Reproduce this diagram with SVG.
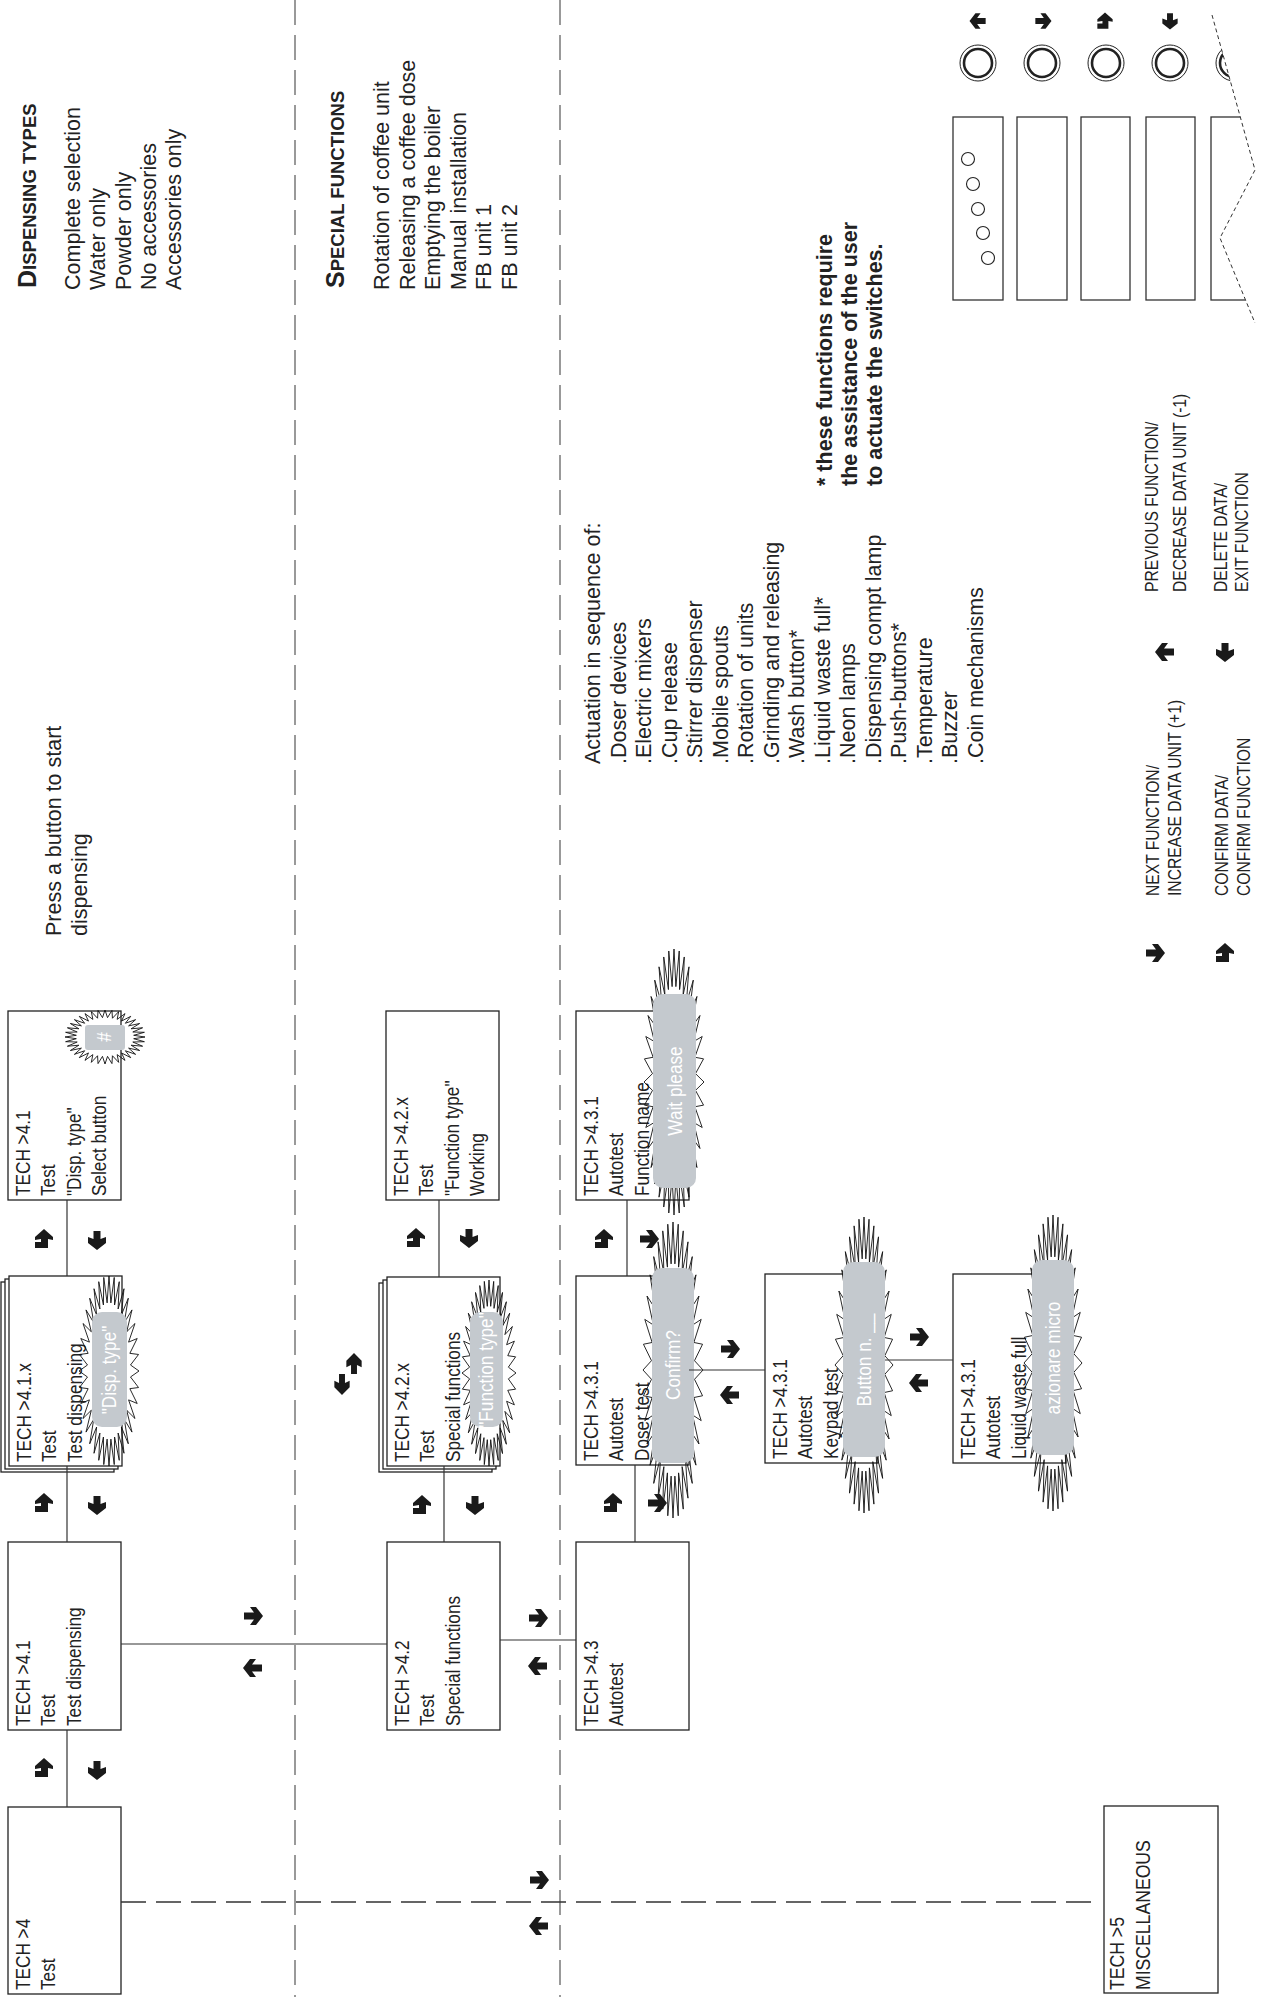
<svg xmlns="http://www.w3.org/2000/svg" width="1269" height="1997" viewBox="0 0 1269 1997">
<style>
.bx{fill:#fff;stroke:#222;stroke-width:1.3}
.t{font-family:"Liberation Sans",Arial,sans-serif;font-size:21px;fill:#222}
.tw{font-family:"Liberation Sans",Arial,sans-serif;font-size:21px;fill:#fff}
.big{font-family:"Liberation Sans",Arial,sans-serif;font-size:21.5px;fill:#222}
.bold{font-weight:bold}
.leg{font-family:"Liberation Sans",Arial,sans-serif;font-size:18px;fill:#222}
.cn{stroke:#333;stroke-width:1.2;fill:none}
.dv{stroke:#808080;stroke-width:1.6;stroke-dasharray:25 10;fill:none}
.dh{stroke:#333;stroke-width:1.3;stroke-dasharray:25 10;fill:none}
.gr{fill:#c4c9ce}
.ar{fill:#1a1a1a}
.pn{fill:none;stroke:#333;stroke-width:1.3}
</style>
<defs>
<polygon id="star" fill="none" stroke="#111" stroke-width="0.9" vector-effect="non-scaling-stroke" points="1,0 .717,.063 .985,.174 .695,.186 .94,.342 .653,.304 .866,.5 .59,.413 .766,.643 .509,.509 .643,.766 .413,.59 .5,.866 .304,.653 .342,.94 .186,.695 .174,.985 .063,.717 0,1 -.063,.717 -.174,.985 -.186,.695 -.342,.94 -.304,.653 -.5,.866 -.413,.59 -.643,.766 -.509,.509 -.766,.643 -.59,.413 -.866,.5 -.653,.304 -.94,.342 -.695,.186 -.985,.174 -.717,.063 -1,0 -.717,-.063 -.985,-.174 -.695,-.186 -.94,-.342 -.653,-.304 -.866,-.5 -.59,-.413 -.766,-.643 -.509,-.509 -.643,-.766 -.413,-.59 -.5,-.866 -.304,-.653 -.342,-.94 -.186,-.695 -.174,-.985 -.063,-.717 0,-1 .063,-.717 .174,-.985 .186,-.695 .342,-.94 .304,-.653 .5,-.866 .413,-.59 .643,-.766 .509,-.509 .766,-.643 .59,-.413 .866,-.5 .653,-.304 .94,-.342 .695,-.186 .985,-.174 .717,-.063"/>
<path id="aR" class="ar" d="M-9,-3.5 H1 L-3,-9 H3 L10,0 L3,9 H-3 L1,3.5 H-9 Z"/>
<path id="aL" class="ar" d="M9,-3.5 H-1 L3,-9 H-3 L-10,0 L-3,9 H3 L-1,3.5 H9 Z"/>
<path id="aD" class="ar" d="M-3.5,-9 H3.5 V-1 L9,-3 V3 L0,10 L-9,3 V-3 L-3.5,-1 Z"/>
<path id="aU" class="ar" d="M-3.5,9 H3.5 V1 L9,3 V-3 L0,-10 L-9,-3 V3 L-3.5,1 Z"/>
<path id="aC" class="ar" d="M0,-10 L9,-2 V1 L4,0 V9 H-9 V3 H-3 V0 L-9,1 V-2 Z"/>
<clipPath id="tear"><polygon points="900,0 1208,0 1212,15 1255,170 1220,238 1255,323 1262,340 900,340"/></clipPath>
</defs>

<g id="separators">
<line class="dv" x1="295" y1="0" x2="295" y2="1997"/>
<line class="dv" x1="560" y1="0" x2="560" y2="1997"/>
</g>

<g id="notes">
<text class="big bold" transform="translate(36,288) rotate(-90)"><tspan font-size="25">D</tspan><tspan font-size="18.5">ISPENSING TYPES</tspan></text>
<text class="big" transform="translate(80,290) rotate(-90)"><tspan x="0" y="0">Complete selection</tspan><tspan x="0" y="25.3">Water only</tspan><tspan x="0" y="50.6">Powder only</tspan><tspan x="0" y="75.9">No accessories</tspan><tspan x="0" y="101.2">Accessories only</tspan></text>
<text class="big bold" transform="translate(344,288) rotate(-90)"><tspan font-size="25">S</tspan><tspan font-size="18.5">PECIAL FUNCTIONS</tspan></text>
<text class="big" transform="translate(389,290) rotate(-90)"><tspan x="0" y="0">Rotation of coffee unit</tspan><tspan x="0" y="25.5">Releasing a coffee dose</tspan><tspan x="0" y="51">Emptying the boiler</tspan><tspan x="0" y="76.5">Manual installation</tspan><tspan x="0" y="102">FB unit 1</tspan><tspan x="0" y="127.5">FB unit 2</tspan></text>
<text class="big" transform="translate(61,936) rotate(-90)"><tspan x="0" y="0">Press a button to start</tspan><tspan x="0" y="25.5">dispensing</tspan></text>
<text class="big" transform="translate(600,764) rotate(-90)"><tspan x="0" y="0">Actuation in sequence of:</tspan><tspan x="0" y="25.5">.Doser devices</tspan><tspan x="0" y="51">.Electric mixers</tspan><tspan x="0" y="76.5">.Cup release</tspan><tspan x="0" y="102">.Stirrer dispenser</tspan><tspan x="0" y="127.5">.Mobile spouts</tspan><tspan x="0" y="153">.Rotation of units</tspan><tspan x="0" y="178.5">.Grinding and releasing</tspan><tspan x="0" y="204">.Wash button*</tspan><tspan x="0" y="229.5">.Liquid waste full*</tspan><tspan x="0" y="255">.Neon lamps</tspan><tspan x="0" y="280.5">.Dispensing compt lamp</tspan><tspan x="0" y="306">.Push-buttons*</tspan><tspan x="0" y="331.5">.Temperature</tspan><tspan x="0" y="357">.Buzzer</tspan><tspan x="0" y="382.5">.Coin mechanisms</tspan></text>
<text class="big bold" transform="translate(832,486) rotate(-90)"><tspan x="0" y="0">* these functions require</tspan><tspan x="0" y="25">the assistance of the user</tspan><tspan x="0" y="50">to actuate the switches.</tspan></text>
</g>

<g id="legend">
<text class="leg" transform="translate(1159,896) rotate(-90) scale(0.87 1)"><tspan x="0" y="0">NEXT FUNCTION/</tspan><tspan x="0" y="22">INCREASE DATA UNIT (+1)</tspan></text>
<text class="leg" transform="translate(1228,896) rotate(-90) scale(0.87 1)"><tspan x="0" y="0">CONFIRM DATA/</tspan><tspan x="0" y="22">CONFIRM FUNCTION</tspan></text>
<text class="leg" transform="translate(1158,592) rotate(-90) scale(0.87 1)"><tspan x="0" y="0">PREVIOUS FUNCTION/</tspan><tspan x="0" y="28">DECREASE DATA UNIT (-1)</tspan></text>
<text class="leg" transform="translate(1227,592) rotate(-90) scale(0.87 1)"><tspan x="0" y="0">DELETE DATA/</tspan><tspan x="0" y="21">EXIT FUNCTION</tspan></text>
<use href="#aR" transform="translate(1155 953)"/>
<use href="#aC" transform="translate(1225 953)"/>
<use href="#aL" transform="translate(1165 652)"/>
<use href="#aD" transform="translate(1225 652)"/>
</g>

<g id="panel">
<use href="#aL" transform="translate(978 21) scale(0.85)"/>
<use href="#aR" transform="translate(1043 21) scale(0.85)"/>
<use href="#aC" transform="translate(1105 21) scale(0.85)"/>
<use href="#aD" transform="translate(1170 21) scale(0.85)"/>
<g clip-path="url(#tear)">
<circle cx="978" cy="63" r="18" fill="none" stroke="#222" stroke-width="1"/><circle cx="978" cy="63" r="14" fill="none" stroke="#222" stroke-width="2.6"/>
<circle cx="1042" cy="63" r="18" fill="none" stroke="#222" stroke-width="1"/><circle cx="1042" cy="63" r="14" fill="none" stroke="#222" stroke-width="2.6"/>
<circle cx="1106" cy="63" r="18" fill="none" stroke="#222" stroke-width="1"/><circle cx="1106" cy="63" r="14" fill="none" stroke="#222" stroke-width="2.6"/>
<circle cx="1170" cy="63" r="18" fill="none" stroke="#222" stroke-width="1"/><circle cx="1170" cy="63" r="14" fill="none" stroke="#222" stroke-width="2.6"/>
<circle cx="1234" cy="63" r="18" fill="none" stroke="#222" stroke-width="1"/><circle cx="1234" cy="63" r="14" fill="none" stroke="#222" stroke-width="2.6"/>
<rect class="pn" x="953" y="117" width="50" height="183"/>
<rect class="pn" x="1017" y="117" width="50" height="183"/>
<rect class="pn" x="1081" y="117" width="49" height="183"/>
<rect class="pn" x="1146" y="117" width="49" height="183"/>
<rect class="pn" x="1211" y="117" width="50" height="183"/>
</g>
<circle cx="968" cy="159" r="6.5" fill="none" stroke="#222" stroke-width="1.1"/>
<circle cx="973" cy="184" r="6.5" fill="none" stroke="#222" stroke-width="1.1"/>
<circle cx="978" cy="209" r="6.5" fill="none" stroke="#222" stroke-width="1.1"/>
<circle cx="983" cy="233" r="6.5" fill="none" stroke="#222" stroke-width="1.1"/>
<circle cx="988" cy="258" r="6.5" fill="none" stroke="#222" stroke-width="1.1"/>
<polyline points="1212,15 1255,170 1220,238 1255,323" fill="none" stroke="#333" stroke-width="1" stroke-dasharray="4 3"/>
</g>

<g id="tech4">
<rect class="bx" x="8" y="1807" width="113" height="187"/>
<text class="t" transform="translate(30,1990) rotate(-90) scale(0.82 1)"><tspan x="0" y="0">TECH &gt;4</tspan><tspan x="0" y="25.5">Test</tspan></text>
</g>
<g id="tech41">
<rect class="bx" x="8" y="1542" width="113" height="188"/>
<text class="t" transform="translate(30,1726) rotate(-90) scale(0.82 1)"><tspan x="0" y="0">TECH &gt;4.1</tspan><tspan x="0" y="25.5">Test</tspan><tspan x="0" y="51">Test dispensing</tspan></text>
</g>
<g id="tech41x">
<rect class="bx" x="1" y="1282" width="113" height="190"/>
<rect class="bx" x="5" y="1279" width="113" height="190"/>
<rect class="bx" x="9" y="1276" width="113" height="190"/>
<text class="t" transform="translate(31,1462) rotate(-90) scale(0.82 1)"><tspan x="0" y="0">TECH &gt;4.1.x</tspan><tspan x="0" y="25.5">Test</tspan><tspan x="0" y="51">Test dispensing</tspan></text>
<use href="#star" transform="translate(109 1371) scale(30 95)"/>
<rect class="gr" x="92" y="1312" width="35" height="115" rx="10"/>
<text class="tw" text-anchor="middle" transform="translate(116,1370) rotate(-90) scale(0.82 1)">"Disp. type"</text>
</g>
<g id="tech41sel">
<rect class="bx" x="8" y="1011" width="113" height="189"/>
<text class="t" transform="translate(30,1196) rotate(-90) scale(0.82 1)"><tspan x="0" y="0">TECH &gt;4.1</tspan><tspan x="0" y="25.5">Test</tspan><tspan x="0" y="51">"Disp. type"</tspan><tspan x="0" y="76.5">Select button</tspan></text>
<use href="#star" transform="translate(105 1037) scale(40 27)"/>
<rect class="gr" x="85" y="1025" width="40" height="25" rx="3"/>
<text class="tw" text-anchor="middle" transform="translate(111,1037) rotate(-90) scale(0.82 1)">#</text>
</g>

<g id="tech42">
<rect class="bx" x="387" y="1542" width="113" height="188"/>
<text class="t" transform="translate(409,1726) rotate(-90) scale(0.82 1)"><tspan x="0" y="0">TECH &gt;4.2</tspan><tspan x="0" y="25.5">Test</tspan><tspan x="0" y="51">Special functions</tspan></text>
</g>
<g id="tech42x">
<rect class="bx" x="379" y="1283" width="113" height="189"/>
<rect class="bx" x="383" y="1280" width="113" height="189"/>
<rect class="bx" x="387" y="1277" width="113" height="189"/>
<text class="t" transform="translate(409,1462) rotate(-90) scale(0.82 1)"><tspan x="0" y="0">TECH &gt;4.2.x</tspan><tspan x="0" y="25.5">Test</tspan><tspan x="0" y="51">Special functions</tspan></text>
<use href="#star" transform="translate(489 1373) scale(27 93)"/>
<rect class="gr" x="470" y="1312" width="33" height="115" rx="10"/>
<text class="tw" text-anchor="middle" transform="translate(493,1370) rotate(-90) scale(0.82 1)">"Function type"</text>
</g>
<g id="tech42xw">
<rect class="bx" x="386" y="1011" width="113" height="189"/>
<text class="t" transform="translate(408,1196) rotate(-90) scale(0.82 1)"><tspan x="0" y="0">TECH &gt;4.2.x</tspan><tspan x="0" y="25.5">Test</tspan><tspan x="0" y="51">"Function type"</tspan><tspan x="0" y="76.5">Working</tspan></text>
</g>

<g id="tech43">
<rect class="bx" x="576" y="1542" width="113" height="188"/>
<text class="t" transform="translate(598,1726) rotate(-90) scale(0.82 1)"><tspan x="0" y="0">TECH &gt;4.3</tspan><tspan x="0" y="25.5">Autotest</tspan></text>
</g>
<g id="tech431doser">
<rect class="bx" x="576" y="1276" width="113" height="189"/>
<text class="t" transform="translate(598,1461) rotate(-90) scale(0.82 1)"><tspan x="0" y="0">TECH &gt;4.3.1</tspan><tspan x="0" y="25.5">Autotest</tspan><tspan x="0" y="51">Doser test</tspan></text>
<use href="#star" transform="translate(673 1370) scale(30 148)"/>
<rect class="gr" x="652" y="1268" width="42" height="195" rx="10"/>
<text class="tw" text-anchor="middle" transform="translate(680,1365) rotate(-90) scale(0.82 1)">Confirm?</text>
</g>
<g id="tech431func">
<rect class="bx" x="576" y="1011" width="113" height="189"/>
<text class="t" transform="translate(598,1196) rotate(-90) scale(0.82 1)"><tspan x="0" y="0">TECH &gt;4.3.1</tspan><tspan x="0" y="25.5">Autotest</tspan><tspan x="0" y="51">Function name</tspan></text>
<use href="#star" transform="translate(674 1082) scale(30 133)"/>
<rect class="gr" x="653" y="994" width="43" height="194" rx="10"/>
<text class="tw" text-anchor="middle" transform="translate(681.5,1091) rotate(-90) scale(0.82 1)">Wait please</text>
</g>
<g id="tech431keypad">
<rect class="bx" x="765" y="1274" width="113" height="189"/>
<text class="t" transform="translate(787,1459) rotate(-90) scale(0.82 1)"><tspan x="0" y="0">TECH &gt;4.3.1</tspan><tspan x="0" y="25.5">Autotest</tspan><tspan x="0" y="51">Keypad test</tspan></text>
<use href="#star" transform="translate(864 1365) scale(29 148)"/>
<rect class="gr" x="843" y="1262" width="42" height="195" rx="10"/>
<text class="tw" text-anchor="middle" transform="translate(871,1360) rotate(-90) scale(0.82 1)">Button n. __</text>
</g>
<g id="tech431liquid">
<rect class="bx" x="953" y="1274" width="113" height="189"/>
<text class="t" transform="translate(975,1459) rotate(-90) scale(0.82 1)"><tspan x="0" y="0">TECH &gt;4.3.1</tspan><tspan x="0" y="25.5">Autotest</tspan><tspan x="0" y="51">Liquid waste full</tspan></text>
<use href="#star" transform="translate(1053 1363) scale(29 148)"/>
<rect class="gr" x="1032" y="1260" width="42" height="195" rx="10"/>
<text class="tw" text-anchor="middle" transform="translate(1060,1358) rotate(-90) scale(0.82 1)">azionare micro</text>
</g>

<g id="tech5">
<rect class="bx" x="1104" y="1806" width="114" height="187"/>
<text class="t" transform="translate(1124,1990) rotate(-90) scale(0.84 1)"><tspan x="0" y="0">TECH &gt;5</tspan><tspan x="0" y="26">MISCELLANEOUS</tspan></text>
</g>

<g id="connectors">
<line class="cn" x1="67" y1="1730" x2="67" y2="1807"/>
<line class="cn" x1="67" y1="1466" x2="67" y2="1542"/>
<line class="cn" x1="67" y1="1200" x2="67" y2="1276"/>
<line class="cn" x1="121" y1="1644" x2="387" y2="1644"/>
<line class="cn" x1="444" y1="1466" x2="444" y2="1542"/>
<line class="cn" x1="439" y1="1200" x2="439" y2="1277"/>
<line class="cn" x1="500" y1="1640" x2="576" y2="1640"/>
<line class="cn" x1="635" y1="1465" x2="635" y2="1542"/>
<line class="cn" x1="627" y1="1200" x2="627" y2="1276"/>
<line class="cn" x1="689" y1="1370" x2="765" y2="1370"/>
<line class="cn" x1="885" y1="1360" x2="953" y2="1360"/>
<line class="dh" x1="121" y1="1902" x2="1093" y2="1902"/>
</g>

<g id="arrows">
<use href="#aC" transform="translate(44 1768)"/>
<use href="#aD" transform="translate(97 1770)"/>
<use href="#aC" transform="translate(44 1503)"/>
<use href="#aD" transform="translate(97 1505)"/>
<use href="#aC" transform="translate(44 1239)"/>
<use href="#aD" transform="translate(97 1240)"/>
<use href="#aR" transform="translate(253 1616)"/>
<use href="#aL" transform="translate(253 1668)"/>
<use href="#aC" transform="translate(416 1238)"/>
<use href="#aD" transform="translate(469 1238)"/>
<use href="#aC" transform="translate(422 1505)"/>
<use href="#aD" transform="translate(475 1505)"/>
<use href="#aD" transform="translate(342 1384) scale(0.85 1.1)"/>
<use href="#aU" transform="translate(354 1364) scale(0.85 1.1)"/>
<use href="#aR" transform="translate(538 1618)"/>
<use href="#aL" transform="translate(538 1666)"/>
<use href="#aR" transform="translate(539 1880)"/>
<use href="#aL" transform="translate(539 1926)"/>
<use href="#aC" transform="translate(613 1503)"/>
<use href="#aR" transform="translate(657 1503)"/>
<use href="#aC" transform="translate(604 1239)"/>
<use href="#aR" transform="translate(649 1239)"/>
<use href="#aR" transform="translate(730 1349)"/>
<use href="#aL" transform="translate(730 1395)"/>
<use href="#aR" transform="translate(919 1337)"/>
<use href="#aL" transform="translate(919 1383)"/>
</g>
</svg>
